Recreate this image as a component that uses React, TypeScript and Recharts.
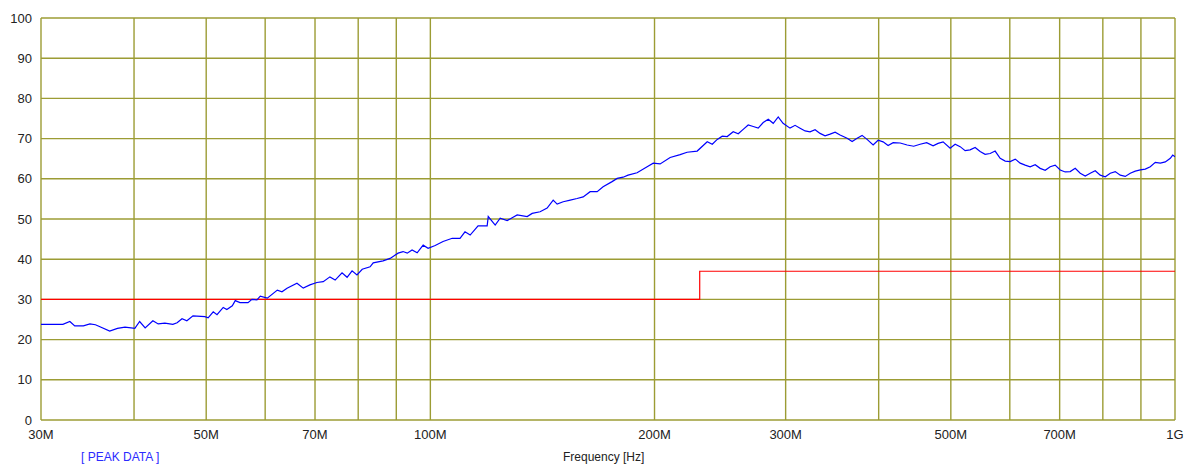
import { LineChart, Line, XAxis, YAxis, CartesianGrid } from "recharts"

// measured peak trace (MHz / dBuV)
const FREQ_MHZ = [
  30.0, 32.1, 32.8, 33.3, 34.2, 34.9, 35.5, 36.0, 37.1, 38.0, 38.9, 40.1, 40.7, 41.4, 42.4, 43.1,
  44.0, 45.1, 45.7, 46.4, 47.1, 48.0, 49.8, 50.3, 51.1, 51.7, 52.7, 53.3, 54.2, 54.7, 55.5, 56.9,
  57.6, 58.5, 59.1, 60.4, 62.3, 63.2, 64.2, 66.2, 67.5, 68.9, 70.4, 71.8, 73.3, 74.5, 76.1, 77.3,
  78.5, 79.7, 81.0, 83.0, 83.8, 86.4, 88.3, 90.5, 91.9, 93.1, 94.5, 96.0, 97.8, 99.3, 101.5, 104.0,
  107.0, 109.6, 111.3, 113.1, 115.9, 119.2, 119.6, 122.2, 124.1, 126.8, 130.8, 134.9, 137.0, 140.4,
  143.5, 146.2, 148.0, 150.8, 154.1, 157.4, 160.4, 163.9, 167.5, 170.6, 175.4, 178.2, 181.5, 184.3,
  189.5, 195.5, 199.2, 203.5, 209.9, 216.5, 221.2, 228.2, 235.4, 239.1, 242.8, 246.6, 250.4, 255.1,
  259.1, 263.1, 267.2, 271.4, 275.6, 279.9, 284.3, 288.7, 293.2, 297.6, 304.1, 308.9, 313.7, 318.6,
  323.5, 328.6, 333.7, 338.9, 344.2, 349.6, 355.0, 362.8, 368.5, 374.2, 380.0, 385.9, 393.2, 399.3,
  405.5, 411.8, 418.3, 427.5, 436.8, 445.7, 454.7, 464.0, 473.3, 480.7, 488.2, 498.9, 506.7, 514.6,
  522.6, 530.7, 539.0, 547.4, 555.9, 564.6, 573.4, 582.4, 591.5, 600.7, 610.1, 619.6, 629.2, 639.0,
  649.0, 659.1, 669.4, 679.8, 690.4, 701.2, 712.1, 723.2, 734.5, 746.0, 757.6, 769.4, 781.4, 793.6,
  806.0, 818.6, 831.3, 844.3, 857.4, 870.8, 884.4, 898.2, 912.2, 926.4, 940.9, 955.6, 970.5, 985.6,
  993.0, 1000.0,
]

const PEAK_DBUV = [
  23.8, 23.8, 24.5, 23.4, 23.4, 23.9, 23.7, 23.2, 22.1, 22.8, 23.1, 22.8, 24.5, 22.9, 24.7, 23.9,
  24.1, 23.8, 24.2, 25.2, 24.7, 25.9, 25.7, 25.4, 26.9, 26.2, 28.0, 27.5, 28.4, 29.7, 29.2, 29.2,
  30.0, 29.9, 30.8, 30.3, 32.3, 31.9, 32.8, 34.0, 32.8, 33.6, 34.2, 34.4, 35.6, 34.8, 36.6, 35.5,
  37.1, 36.1, 37.5, 38.1, 39.1, 39.6, 40.2, 41.5, 41.9, 41.5, 42.3, 41.6, 43.5, 42.7, 43.4, 44.4,
  45.2, 45.2, 46.8, 46.0, 48.3, 48.3, 50.6, 48.5, 50.2, 49.6, 51.0, 50.6, 51.4, 51.8,
  52.7, 54.7, 53.7, 54.3, 54.7, 55.1, 55.5, 56.8, 56.8, 58.0, 59.3, 60.1, 60.4, 60.9,
  61.5, 63.0, 63.9, 63.7, 65.3, 66.0, 66.6, 66.9, 69.2, 68.6, 69.8, 70.6, 70.5, 71.7,
  71.2, 72.3, 73.4, 73.0, 72.6, 74.0, 74.8, 73.8, 75.4, 73.8, 72.6, 73.3, 72.6, 71.9,
  71.7, 72.2, 71.3, 70.7, 71.1, 71.6, 70.9, 70.1, 69.3, 70.1, 70.8, 69.8, 68.4, 69.6,
  69.2, 68.3, 69.0, 68.9, 68.4, 68.1, 68.6, 69.0, 68.2, 68.8, 69.2, 67.6, 68.6, 68.0,
  67.0, 67.2, 67.8, 66.8, 66.1, 66.3, 66.9, 65.1, 64.4, 64.3, 64.9, 63.9, 63.4, 63.0,
  63.5, 62.6, 62.1, 63.0, 63.4, 62.2, 61.7, 61.8, 62.6, 61.4, 60.7, 61.4, 62.0, 60.9,
  60.5, 61.4, 61.8, 60.9, 60.6, 61.4, 61.9, 62.2, 62.4, 63.0, 64.1, 63.9, 64.2, 65.1,
  65.9, 65.5,
]

// limit line
const LIMIT_FREQ = [30, 230, 230, 1000]
const LIMIT_DBUV = [30, 30, 37, 37]

const X_TICKS = [30, 40, 50, 60, 70, 80, 90, 100, 200, 300, 400, 500, 600, 700, 800, 900, 1000]
const X_LABELS: Record<number, string> = {
  30: "30M", 50: "50M", 70: "70M", 100: "100M", 200: "200M", 300: "300M", 500: "500M", 700: "700M", 1000: "1G",
}
const Y_TICKS = [0, 10, 20, 30, 40, 50, 60, 70, 80, 90, 100]

const peakData = FREQ_MHZ.map((f, i) => ({ f, v: PEAK_DBUV[i] }))
const limitData = LIMIT_FREQ.map((f, i) => ({ f, v: LIMIT_DBUV[i] }))

const GRID = "#9c9c34"
const FONT = "'Liberation Sans', Arial, sans-serif"

export default function App() {
  return (
    <div style={{ position: "relative", width: 1185, height: 458, fontFamily: FONT }}>
      <LineChart width={1185} height={458} margin={{ top: 10, right: 18, bottom: 16, left: 0 }}>
        <CartesianGrid stroke={GRID} strokeWidth={1.4} verticalValues={X_TICKS} horizontalValues={Y_TICKS} />
        <XAxis
          dataKey="f"
          type="number"
          scale="log"
          domain={[30, 1000]}
          allowDataOverflow
          ticks={X_TICKS}
          interval={0}
          tickFormatter={(v: number) => X_LABELS[v] ?? ""}
          axisLine={false}
          tickLine={false}
          tickSize={8}
          tickMargin={2}
          height={30}
          tick={{ fill: "#222", fontSize: 13, fontFamily: FONT }}
        />
        <YAxis
          type="number"
          domain={[0, 100]}
          ticks={Y_TICKS}
          interval={0}
          axisLine={false}
          tickLine={false}
          tickSize={7}
          tickMargin={2}
          width={33}
          tick={{ fill: "#222", fontSize: 13, fontFamily: FONT }}
        />
        <Line data={limitData} dataKey="v" type="linear" stroke="#ff0000" strokeWidth={1.2} dot={false} isAnimationActive={false} />
        <Line data={peakData} dataKey="v" type="linear" stroke="#0000ff" strokeWidth={1.2} dot={false} isAnimationActive={false} />
      </LineChart>
      <div style={{ position: "absolute", left: 73, top: 442, fontSize: 12, color: "#2a2aff", whiteSpace: "nowrap" }}>
        [ PEAK DATA ]
      </div>
      <div style={{ position: "absolute", left: 555, top: 442, fontSize: 12, color: "#222", whiteSpace: "nowrap" }}>
        Frequency [Hz]
      </div>
    </div>
  )
}
